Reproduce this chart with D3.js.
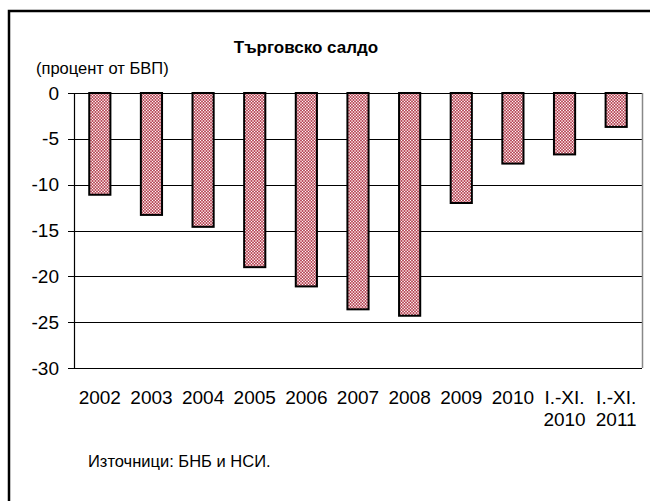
<!DOCTYPE html>
<html>
<head>
<meta charset="utf-8">
<script src="https://cdn.jsdelivr.net/npm/d3@7"></script>
<style>
  body { margin: 0; background: #fff; }
  svg { display: block; font-family: "Liberation Sans", Arial, sans-serif; }
</style>
</head>
<body>
<div class="vis-barchart"></div>
<script>
const categories = ['2002', '2003', '2004', '2005', '2006', '2007', '2008', '2009', '2010', 'I.-XI.|2010', 'I.-XI.|2011'];
const values = [-11.1, -13.3, -14.6, -19.0, -21.1, -23.6, -24.3, -12.0, -7.7, -6.7, -3.7];
const yTicks = [0, -5, -10, -15, -20, -25, -30];

const W = 650, H = 501;
const plot = {left: 74, right: 642, top: 93, bottom: 368};

const svg = d3.select('.vis-barchart').append('svg')
    .attr('width', W)
    .attr('height', H);

// fill pattern for the bars (red/pink check with white dots)
const pat = svg.append('defs').append('pattern')
    .attr('id', 'check')
    .attr('width', 3).attr('height', 3)
    .attr('patternUnits', 'userSpaceOnUse');
pat.append('rect').attr('width', 3).attr('height', 3).attr('fill', '#b85564');
pat.append('rect').attr('width', 2).attr('height', 2).attr('fill', '#e2a4ab');
pat.append('rect').attr('x', 2).attr('y', 2).attr('width', 1).attr('height', 1).attr('fill', '#fff');

// outer frame (only top and left visible)
svg.append('path')
    .attr('d', `M9,${H} V11 H${W}`)
    .attr('fill', 'none')
    .attr('stroke', '#000')
    .attr('stroke-width', 2.5);

const x = d3.scaleBand()
    .domain(categories)
    .range([plot.left, plot.right])
    .paddingInner(0.59)
    .paddingOuter(0.295);

const y = d3.scaleLinear()
    .domain([-30, 0])
    .range([plot.bottom, plot.top]);

// gridlines
svg.append('g')
    .selectAll('line')
    .data(yTicks)
    .enter().append('line')
    .attr('x1', plot.left - 6)
    .attr('x2', plot.right)
    .attr('y1', d => Math.round(y(d)) + 0.5)
    .attr('y2', d => Math.round(y(d)) + 0.5)
    .attr('stroke', '#000')
    .attr('stroke-width', 1.2);

// plot right edge
svg.append('line')
    .attr('x1', plot.right + 0.5).attr('x2', plot.right + 0.5)
    .attr('y1', plot.top).attr('y2', plot.bottom)
    .attr('stroke', '#888')
    .attr('stroke-width', 1.5);

// y axis line
svg.append('line')
    .attr('x1', plot.left + 0.5).attr('x2', plot.left + 0.5)
    .attr('y1', plot.top).attr('y2', plot.bottom + 1)
    .attr('stroke', '#000')
    .attr('stroke-width', 1.2);

// y tick labels
svg.append('g')
    .selectAll('text')
    .data(yTicks)
    .enter().append('text')
    .attr('x', plot.left - 15)
    .attr('y', d => y(d))
    .attr('dy', '0.35em')
    .attr('text-anchor', 'end')
    .style('font-size', '19px')
    .text(d => d);

// bars
svg.append('g')
    .selectAll('rect')
    .data(values)
    .enter().append('rect')
    .attr('x', (d, i) => x(categories[i]))
    .attr('y', y(0))
    .attr('width', x.bandwidth())
    .attr('height', d => y(d) - y(0))
    .attr('fill', 'url(#check)')
    .attr('stroke', '#000')
    .attr('stroke-width', 2);

// x labels
const xl = svg.append('g')
    .selectAll('text')
    .data(categories)
    .enter().append('text')
    .attr('x', d => x(d) + x.bandwidth() / 2)
    .attr('y', 404)
    .attr('text-anchor', 'middle')
    .style('font-size', '19px');
xl.selectAll('tspan')
    .data(d => d.split('|'))
    .enter().append('tspan')
    .attr('x', function() { return this.parentNode.getAttribute('x'); })
    .attr('dy', (d, i) => i === 0 ? 0 : 22)
    .text(d => d);

// title
svg.append('text')
    .attr('x', 306)
    .attr('y', 53)
    .attr('text-anchor', 'middle')
    .style('font-size', '17px')
    .style('font-weight', 'bold')
    .text('Търговско салдо');

svg.append('text')
    .attr('x', 36)
    .attr('y', 74)
    .style('font-size', '16.5px')
    .text('(процент от БВП)');

svg.append('text')
    .attr('x', 88)
    .attr('y', 467)
    .style('font-size', '16.5px')
    .text('Източници: БНБ и НСИ.');
</script>
</body>
</html>
